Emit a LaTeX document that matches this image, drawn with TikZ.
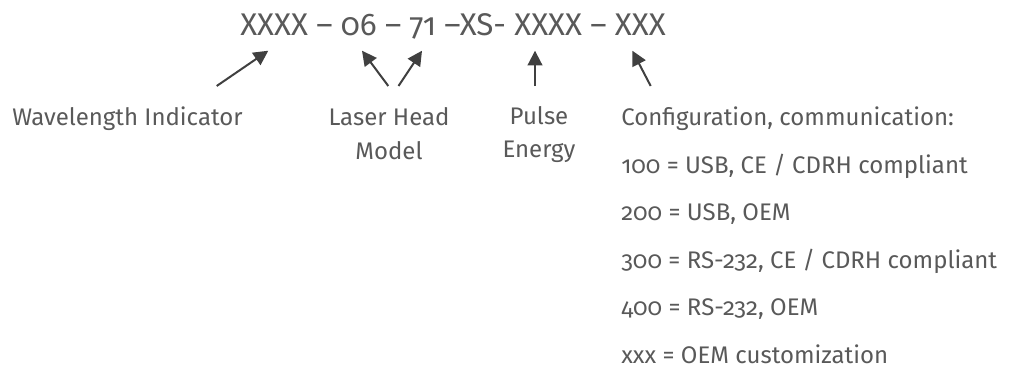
\documentclass[tikz,border=0pt]{standalone}
\usepackage{fontspec}
\setmainfont{Fira Sans}[Numbers=OldStyle]
\usepackage{xcolor}
\usepackage{tikz}
\usetikzlibrary{arrows.meta,positioning}
\definecolor{textgray}{RGB}{89,89,89}
\definecolor{arrowgray}{RGB}{64,64,64}

\begin{document}
\begin{tikzpicture}[x=0.75pt, y=-0.75pt,
    code/.style={anchor=base west, inner sep=0pt, text=textgray, font=\fontsize{23.5}{28}\selectfont},
    partname/.style={inner sep=0pt, anchor=base, align=center, text=textgray, font=\fontsize{18}{25}\selectfont},
    optlist/.style={inner sep=0pt, anchor=base west, align=left, text=textgray, font=\fontsize{18}{35.6}\selectfont},
    pointer/.style={draw=arrowgray, line width=1.5pt, -{Triangle[length=11pt,width=11pt]}}
]
    \useasboundingbox (0,0) rectangle (1014,371);

    % part number
    \node[code] (pn) at (240,35) {XXXX -- 06 -- 71 --XS- XXXX -- XXX};

    % what each part means (multi-line nodes sit on their last line)
    \node[partname, anchor=base west] (wl) at (12,125.5) {Wavelength Indicator};
    \node[partname] (lhm) at (389,159) {Laser Head\\Model};
    \node[partname] (pe) at (539,157.5) {Pulse\\Energy};
    \node[optlist] (cfg) at (621,363) {Configuration, communication:\\
        100 = USB, CE / CDRH compliant\\
        200 = USB, OEM\\
        300 = RS-232, CE / CDRH compliant\\
        400 = RS-232, OEM\\
        xxx = OEM customization};

    % arrow ends
    \coordinate (wl-tail) at (216.7,86);
    \coordinate (wl-tip) at (268.3,50.7);
    \coordinate (lh-tail) at (388.3,86);
    \coordinate (lh-tip) at (362,50.7);
    \coordinate (md-tail) at (398.5,86);
    \coordinate (md-tip) at (422,50.7);
    \coordinate (pe-tail) at (535,86);
    \coordinate (pe-tip) at (535,50.7);
    \coordinate (cf-tail) at (650.7,86);
    \coordinate (cf-tip) at (632.3,50.7);

    \draw[pointer] (wl-tail) -- (wl-tip);
    \draw[pointer] (lh-tail) -- (lh-tip);
    \draw[pointer] (md-tail) -- (md-tip);
    \draw[pointer] (pe-tail) -- (pe-tip);
    \draw[pointer] (cf-tail) -- (cf-tip);
\end{tikzpicture}
\end{document}
